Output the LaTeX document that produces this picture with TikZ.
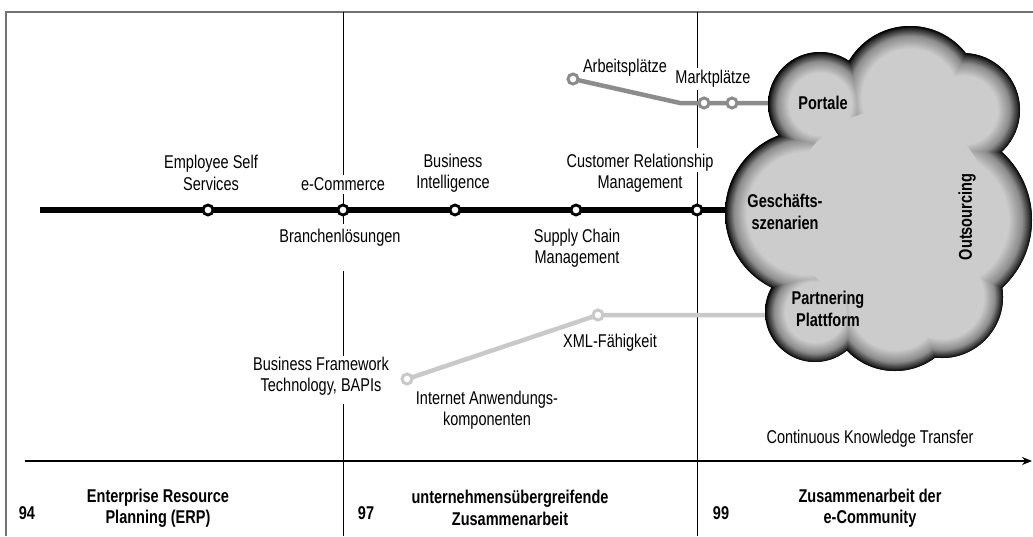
\documentclass[tikz,border=0pt]{standalone}
\usepackage{fontspec}
\setmainfont{Liberation Sans}[FakeStretch=0.785]
\usetikzlibrary{arrows.meta}
\definecolor{cg}{gray}{0.80}
\definecolor{cgm}{gray}{0.55}
\definecolor{cgd}{gray}{0.18}
\definecolor{framegrey}{gray}{0.45}
\definecolor{midline}{gray}{0.55}
\definecolor{lightline}{gray}{0.79}
\pgfdeclareradialshading{lobeS}{\pgfpoint{0bp}{0bp}}{color(0bp)=(cg); color(15bp)=(cg); color(20.5bp)=(cgm); color(23.8bp)=(cgd); color(25bp)=(black); color(50bp)=(black)}
\pgfdeclareradialshading{lobeM}{\pgfpoint{0bp}{0bp}}{color(0bp)=(cg); color(17bp)=(cg); color(21.5bp)=(cgm); color(24bp)=(cgd); color(25bp)=(black); color(50bp)=(black)}
\pgfdeclareradialshading{lobeL}{\pgfpoint{0bp}{0bp}}{color(0bp)=(cg); color(18.5bp)=(cg); color(22.3bp)=(cgm); color(24.3bp)=(cgd); color(25bp)=(black); color(50bp)=(black)}
\newcommand{\fsz}{\fontsize{18.5}{21.5}\selectfont}
\tikzset{
  lbl/.style={font=\fsz, align=center, inner sep=0pt},
  blbl/.style={font=\fsz\bfseries, align=center, inner sep=0pt},
  frameline/.style={draw=framegrey, line width=2pt},
  vline/.style={draw=black, line width=1pt},
  axisline/.style={draw=black, line width=1.2pt, -{Stealth[length=10pt,width=8pt]}},
  mainline/.style={draw=black, line width=6pt},
  greyline/.style={draw=midline, line width=4.5pt},
  paleline/.style={draw=lightline, line width=4.5pt},
  blackdot/.style={circle, draw=black, line width=2.8pt, fill=white, minimum size=10pt, inner sep=0pt},
  greydot/.style={circle, draw=midline, line width=3pt, fill=white, minimum size=10pt, inner sep=0pt},
  paledot/.style={circle, draw=lightline, line width=3pt, fill=white, minimum size=10pt, inner sep=0pt},
}
\begin{document}
\begin{tikzpicture}[x=1pt,y=-1pt]
\useasboundingbox (0,0) rectangle (1033,536);
% frame
\coordinate (fl) at (6,536);
\coordinate (ft) at (6,12);
\coordinate (fr) at (1033,12);
\draw[frameline] (fl) -- (ft) -- (fr);
% vertical separators
\coordinate (a1) at (343,12);  \coordinate (a2) at (343,175);
\coordinate (a3) at (343,194); \coordinate (a4) at (343,224);
\coordinate (a5) at (343,271); \coordinate (a6) at (343,356);
\coordinate (a7) at (343,404); \coordinate (a8) at (343,536);
\draw[vline] (a1) -- (a2) (a3) -- (a4) (a5) -- (a6) (a7) -- (a8);
\coordinate (c1) at (697,12);  \coordinate (c2) at (697,68);
\coordinate (c3) at (697,90);  \coordinate (c4) at (697,148);
\coordinate (c5) at (697,172); \coordinate (c6) at (697,536);
\draw[vline] (c1) -- (c2) (c3) -- (c4) (c5) -- (c6);
% time axis
\coordinate (ax0) at (25,461);
\coordinate (ax1) at (1032,461);
\draw[axisline] (ax0) -- (ax1);
% route points
\coordinate (m0) at (40,210);
\coordinate (m1) at (208,210);
\coordinate (m2) at (343,210);
\coordinate (m3) at (455,210);
\coordinate (m4) at (576,210);
\coordinate (m5) at (697,210);
\coordinate (mE) at (780,210);
\coordinate (g0) at (573,79);
\coordinate (gb) at (680,103);
\coordinate (g1) at (704,103);
\coordinate (g2) at (732,103);
\coordinate (gE) at (800,103);
\coordinate (p0) at (407,379);
\coordinate (p1) at (598,315);
\coordinate (pE) at (800,315);
\draw[mainline] (m0) -- (mE);
\draw[greyline] (g0) -- (gb) -- (gE);
\draw[paleline] (p0) -- (p1) -- (pE);
% cloud
\fill[black] (910,97) circle[radius=71pt] (820,104) circle[radius=52pt]
  (963,110) circle[radius=57pt] (940,220) circle[radius=92pt]
  (808,213) circle[radius=83pt] (815,312) circle[radius=50pt]
  (895,304) circle[radius=67pt] (942,297) circle[radius=61pt];
\shade[shading=lobeM, blend mode=lighten] (910,97) circle[radius=71pt];
\shade[shading=lobeS, blend mode=lighten] (820,104) circle[radius=52pt];
\shade[shading=lobeS, blend mode=lighten] (963,110) circle[radius=57pt];
\shade[shading=lobeL, blend mode=lighten] (940,220) circle[radius=92pt];
\shade[shading=lobeL, blend mode=lighten] (808,213) circle[radius=83pt];
\shade[shading=lobeS, blend mode=lighten] (815,312) circle[radius=50pt];
\shade[shading=lobeM, blend mode=lighten] (895,304) circle[radius=67pt];
\shade[shading=lobeM, blend mode=lighten] (942,297) circle[radius=61pt];
\fill[cg, blend mode=lighten] (890,210) circle[radius=100pt];
% stations
\node[blackdot] (d1) at (m1) {};
\node[blackdot] (d2) at (m2) {};
\node[blackdot] (d3) at (m3) {};
\node[blackdot] (d4) at (m4) {};
\node[blackdot] (d5) at (m5) {};
\node[greydot] (gd0) at (g0) {};
\node[greydot] (gd1) at (g1) {};
\node[greydot] (gd2) at (g2) {};
\node[paledot] (pd0) at (p0) {};
\node[paledot] (pd1) at (p1) {};
% labels
\node[lbl] (emp) at (211,173) {Employee Self\\Services};
\node[lbl] (ecom) at (343,184) {e-Commerce};
\node[lbl] (bi) at (453,173) {Business\\Intelligence};
\node[lbl] (crm) at (640,173) {Customer Relationship\\Management};
\node[lbl] (bran) at (340,238) {Branchenlösungen};
\node[lbl] (scm) at (577,248) {Supply Chain\\Management};
\node[lbl] (arb) at (625,68) {Arbeitsplätze};
\node[lbl] (markt) at (713,79) {Marktplätze};
\node[lbl] (xml) at (610,343) {XML-Fähigkeit};
\node[lbl] (bft) at (321,376) {Business Framework\\Technology, BAPIs};
\node[lbl] (iac) at (487,410) {Internet Anwendungs-\\komponenten};
\node[lbl] (ckt) at (870,439) {Continuous Knowledge Transfer};
% cloud labels
\node[blbl] (portale) at (823,103) {Portale};
\node[blbl] (gesch) at (785,212) {Geschäfts-\\szenarien};
\node[blbl] (partner) at (828,309) {Partnering\\Plattform};
\node[blbl, rotate=90] (outs) at (967,217) {Outsourcing};
% era labels
\node[blbl] (n94) at (27,513) {94};
\node[blbl] (erp) at (158,508) {Enterprise Resource\\Planning (ERP)};
\node[blbl] (n97) at (366,513) {97};
\node[blbl] (uez) at (510,508) {unternehmensübergreifende\\Zusammenarbeit};
\node[blbl] (n99) at (721,513) {99};
\node[blbl] (ecomm) at (870,508) {Zusammenarbeit der\\e-Community};
\end{tikzpicture}
\end{document}
